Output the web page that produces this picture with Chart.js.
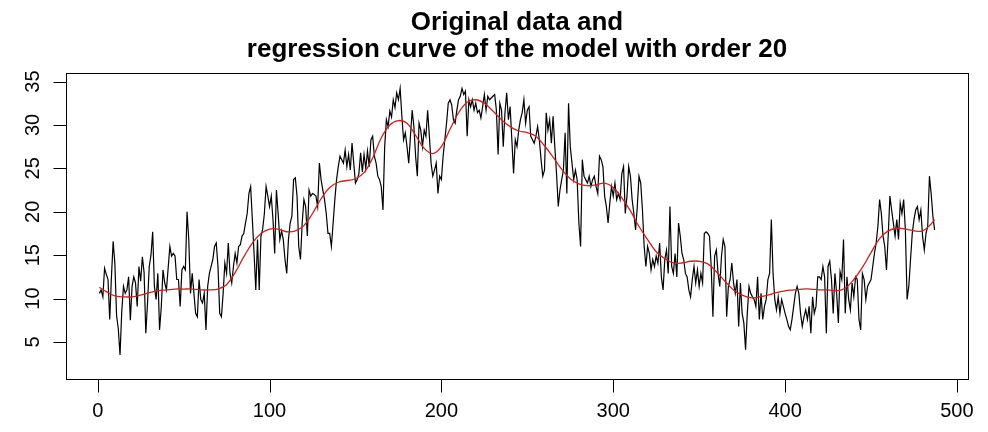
<!DOCTYPE html>
<html>
<head>
<meta charset="utf-8">
<script src="https://cdn.jsdelivr.net/npm/chart.js@4.4.1/dist/chart.umd.min.js"></script>
<style>
  html, body { margin: 0; padding: 0; background: #ffffff; }
  #wrap { width: 988px; height: 432px; }
</style>
</head>
<body>
<div id="wrap"><canvas id="chart" width="988" height="432"></canvas></div>
<script>
// Observed series, one value per time index (1..487)
const observed = [
  10.6, 11.0, 10.2, 13.5, 12.8, 12.2, 7.6, 12.5, 16.6, 14.0,
  8.0, 6.5, 3.5, 8.5, 11.4, 10.6, 11.0, 12.5, 7.5, 11.4,
  12.5, 11.8, 9.1, 13.7, 12.0, 14.8, 13.0, 6.0, 9.5, 13.7,
  15.0, 17.7, 11.4, 9.9, 12.9, 6.4, 9.0, 13.3, 11.8, 11.0,
  13.5, 16.0, 14.9, 15.2, 14.9, 12.2,
  12.2, 9.1, 13.3, 13.7, 13.3, 20.0, 16.8, 10.6, 12.9, 10.6,
  8.3, 7.9, 12.2, 9.9, 9.5, 10.6, 6.4, 11.4, 12.9, 13.7,
  14.5, 16.0, 16.4, 13.7, 8.3, 7.9, 10.6, 14.1, 12.9, 16.4,
  12.9, 11.8, 13.7, 15.2, 14.1, 16.0, 16.2, 17.2, 17.5, 18.7,
  19.8, 22.1, 22.9, 19.1, 15.2, 11.0,
  16.8,
  11.0, 17.2, 18.0, 19.8, 22.9, 21.8, 20.6, 21.8, 19.1, 15.2,
  22.5, 19.8, 16.8, 17.8, 16.8, 14.5, 12.9, 16.8, 18.7, 19.5,
  23.7, 23.9, 21.8, 16.0, 14.5, 18.7, 21.4, 20.6, 17.2, 22.5,
  21.8, 22.1, 22.0, 21.8, 20.6, 25.6, 23.7, 22.5, 21.4, 19.8,
  17.5, 17.5, 16.0, 18.7, 21.4, 23.7, 25.2, 26.4, 26.0, 25.6,
  27.1, 25.2, 26.6, 24.8, 27.9, 25.6, 23.3, 23.7, 24.4, 26.8,
  24.6, 26.6, 25.0, 27.0, 25.2, 28.3, 28.7, 26.4, 25.6, 24.1,
  23.7, 22.9, 20.2, 27.5, 30.6, 29.8, 31.6, 30.9, 32.9, 32.0,
  33.7, 32.9, 34.2, 31.0, 28.3, 29.1, 27.5, 25.6, 28.7, 31.7,
  29.8, 26.4, 24.1, 30.2, 29.4, 27.5, 29.4,
  28.7, 31.7, 28.7, 25.6, 24.1, 24.8, 25.6, 22.1, 24.1, 23.7,
  26.4, 28.3, 30.2, 32.5, 32.9, 32.3, 30.6, 30.2, 31.7, 32.9,
  33.3, 34.2, 33.5, 33.9, 28.7, 32.9, 32.1, 32.9, 31.7, 32.5,
  31.4, 31.7, 30.8, 32.1, 33.5, 31.7, 33.3, 32.9, 33.1, 33.3,
  33.5, 31.7, 26.6, 32.5, 31.7, 27.5, 31.4, 33.7, 30.6,
  32.1, 28.3, 24.4, 28.3, 27.5, 29.4, 30.6, 31.4, 32.9, 30.2,
  31.7, 32.1, 28.7, 28.3, 27.9, 28.7, 29.8, 28.3, 26.0, 24.1,
  24.8, 31.4, 29.4, 30.6, 27.9, 31.0, 27.5, 24.4, 20.6, 22.5,
  23.7, 24.8, 29.1, 22.1, 32.5, 27.5, 25.6, 23.7, 24.8, 23.7,
  18.7, 16.0, 26.0, 24.1, 23.7, 23.3, 24.1, 22.9, 23.7, 24.1,
  22.9, 22.1, 26.4, 26.0, 25.2, 21.8, 20.6, 18.7, 21.0, 22.9,
  21.8, 23.3, 21.4, 22.1, 21.4, 24.4, 25.2, 19.8, 21.8, 25.2,
  24.1, 21.4, 19.8, 17.9, 20.6, 24.1, 23.3, 20.2, 16.0, 13.7,
  16.0, 15.2, 13.3, 14.5, 13.7, 14.9, 14.1, 16.4, 12.5, 11.0,
  14.5, 15.6, 12.9, 20.6, 13.7, 12.9, 15.2, 12.5,
  18.7, 17.2, 15.2, 14.5, 12.9, 12.5, 11.0, 10.2, 12.2, 13.7,
  11.8, 13.3, 11.4, 12.9, 11.8, 17.5, 17.7, 17.5, 17.2, 13.7,
  7.9, 14.9, 15.6, 12.9, 11.4, 14.9, 16.8, 16.0, 7.9, 11.4,
  12.2, 14.1, 11.8, 10.6, 12.2, 6.8, 11.8, 8.3, 7.2, 4.1,
  8.3, 11.4, 10.6, 10.2, 9.9, 9.1, 12.5, 7.6, 10.6,
  7.6, 9.1, 9.9, 12.2, 12.9, 19.1, 12.9, 9.9, 8.7, 10.2,
  8.3, 9.9, 9.1, 8.3, 7.6, 6.8, 6.4, 7.6, 9.1, 10.6,
  11.4, 10.6, 8.3, 6.8, 7.9, 8.7, 7.6, 9.1, 6.0, 10.2,
  8.3, 9.1, 12.5, 12.5, 12.2, 13.7, 12.5, 6.0, 13.7, 14.3,
  12.2, 8.3, 12.9, 10.6, 7.2, 13.1, 12.2, 16.8,
  8.3, 12.5, 9.9, 8.7, 11.8, 10.2, 12.5, 12.2, 7.6, 6.4,
  12.9, 12.2, 9.9, 11.4, 11.8, 12.2, 13.7, 15.2, 16.4, 18.3,
  21.4, 19.8, 17.2, 16.0, 13.3, 17.2, 21.8, 20.2, 18.7, 17.2,
  19.1, 16.8, 21.0, 19.8, 21.4, 17.9, 9.9, 11.4, 14.5, 17.5,
  19.1, 20.2, 20.6, 19.1, 20.2, 17.2, 15.6, 17.5, 18.3, 24.1,
  22.1, 19.5, 17.9
];

// Fitted regression curve (order-20 model), sampled along the index
const fitIndex = [
  1, 5, 10, 15, 20, 25, 30, 35, 40, 45, 50, 55, 60, 65, 70, 75, 80, 85, 90, 95,
  100, 105, 110, 115, 120, 125, 130, 135, 140, 145, 150, 155, 160, 165, 170, 175, 180, 185, 190, 195,
  200, 205, 210, 215, 220, 225, 230, 235, 240, 245, 250, 255, 260, 265, 270, 275, 280, 285, 290, 295,
  300, 305, 310, 315, 320, 325, 330, 335, 340, 345, 350, 355, 360, 365, 370, 375, 380, 385, 390, 395,
  400, 405, 410, 415, 420, 425, 430, 435, 440, 445, 450, 455, 460, 465, 470, 475, 480, 485, 487
];
const fitValues = [
  11.3, 10.8, 10.3, 10.2, 10.2, 10.4, 10.7, 10.9, 11.0, 11.1, 11.1, 11.1, 11.0, 11.0, 11.1, 11.6, 13.0, 14.8, 16.4, 17.5,
  18.0, 18.0, 17.7, 17.8, 18.4, 19.8, 21.5, 22.8, 23.4, 23.6, 23.8, 24.5, 26.2, 28.5, 30.0, 30.5, 30.2, 28.8, 27.3, 26.7,
  27.5, 29.5, 31.4, 32.6, 32.9, 32.5, 31.6, 30.6, 29.8, 29.3, 29.1, 28.7, 27.6, 26.3, 24.9, 23.8, 23.2, 23.0, 23.1, 23.3,
  22.8, 21.6, 20.1, 18.3, 16.8, 15.4, 14.6, 14.1, 14.1, 14.3, 14.3, 14.0, 13.1, 12.0, 11.0, 10.4, 10.1, 10.2, 10.4, 10.7,
  10.9, 11.0, 11.1, 11.1, 11.0, 11.0, 10.9, 11.2, 12.2, 13.6, 15.3, 16.9, 17.8, 18.1, 18.0, 17.8, 17.8, 18.6, 19.1
];

// Axis ticks
const xTicks = [0, 100, 200, 300, 400, 500];
const yTicks = [5, 10, 15, 20, 25, 30, 35];
const titleLines = ['Original data and', 'regression curve of the model with order 20'];

const FONT = '"Liberation Sans", Arial, Helvetica, sans-serif';

// Draws the frame, tick marks, tick labels and title in base-graphics style
const frameAndAxes = {
  id: 'frameAndAxes',
  afterDraw(chart) {
    const { ctx, chartArea: a, scales } = chart;
    const xs = scales.x, ys = scales.y;
    ctx.save();
    ctx.strokeStyle = '#000';
    ctx.fillStyle = '#000';
    ctx.lineWidth = 1;

    // plot frame
    ctx.strokeRect(Math.round(a.left) + 0.5, Math.round(a.top) + 0.5,
                   Math.round(a.right - a.left), Math.round(a.bottom - a.top));

    const tickLen = 13;
    // x axis ticks and labels
    ctx.font = '20px ' + FONT;
    ctx.textAlign = 'center';
    ctx.textBaseline = 'middle';
    const xb = Math.round(a.bottom) + 0.5;
    ctx.beginPath();
    ctx.moveTo(Math.round(xs.getPixelForValue(xTicks[0])) + 0.5, xb);
    ctx.lineTo(Math.round(xs.getPixelForValue(xTicks[xTicks.length - 1])) + 0.5, xb);
    for (const t of xTicks) {
      const px = Math.round(xs.getPixelForValue(t)) + 0.5;
      ctx.moveTo(px, xb);
      ctx.lineTo(px, xb + tickLen);
    }
    ctx.stroke();
    for (const t of xTicks) {
      ctx.fillText(String(t), xs.getPixelForValue(t), a.bottom + 32);
    }

    // y axis ticks and rotated labels
    const yl = Math.round(a.left) + 0.5;
    ctx.beginPath();
    for (const t of yTicks) {
      const py = Math.round(ys.getPixelForValue(t)) + 0.5;
      ctx.moveTo(yl, py);
      ctx.lineTo(yl - tickLen, py);
    }
    ctx.stroke();
    for (const t of yTicks) {
      ctx.save();
      ctx.translate(a.left - 33, ys.getPixelForValue(t));
      ctx.rotate(-Math.PI / 2);
      ctx.fillText(String(t), 0, 0);
      ctx.restore();
    }

    // two-line bold title centred over the plot
    ctx.font = 'bold 26px ' + FONT;
    ctx.textBaseline = 'alphabetic';
    const cx = (a.left + a.right) / 2;
    ctx.fillText(titleLines[0], cx, 30);
    ctx.fillText(titleLines[1], cx, 57);
    ctx.restore();
  }
};

new Chart(document.getElementById('chart'), {
  type: 'line',
  data: {
    datasets: [
      {
        label: 'data',
        data: observed.map((v, i) => ({ x: i + 1, y: v })),
        borderColor: '#000000',
        borderWidth: 1.2,
        pointRadius: 0,
        tension: 0,
        order: 2
      },
      {
        label: 'fit',
        data: fitIndex.map((x, i) => ({ x: x, y: fitValues[i] })),
        borderColor: '#cc2020',
        borderWidth: 1.3,
        pointRadius: 0,
        tension: 0.4,
        order: 1
      }
    ]
  },
  options: {
    responsive: false,
    animation: false,
    events: [],
    layout: { padding: { left: 66, right: 20, top: 73, bottom: 53 } },
    plugins: { legend: { display: false }, tooltip: { enabled: false }, title: { display: false } },
    scales: {
      x: { type: 'linear', min: -18.44, max: 506.44, display: false },
      y: { type: 'linear', min: 0.74, max: 35.98, display: false }
    }
  },
  plugins: [frameAndAxes]
});
</script>
</body>
</html>
